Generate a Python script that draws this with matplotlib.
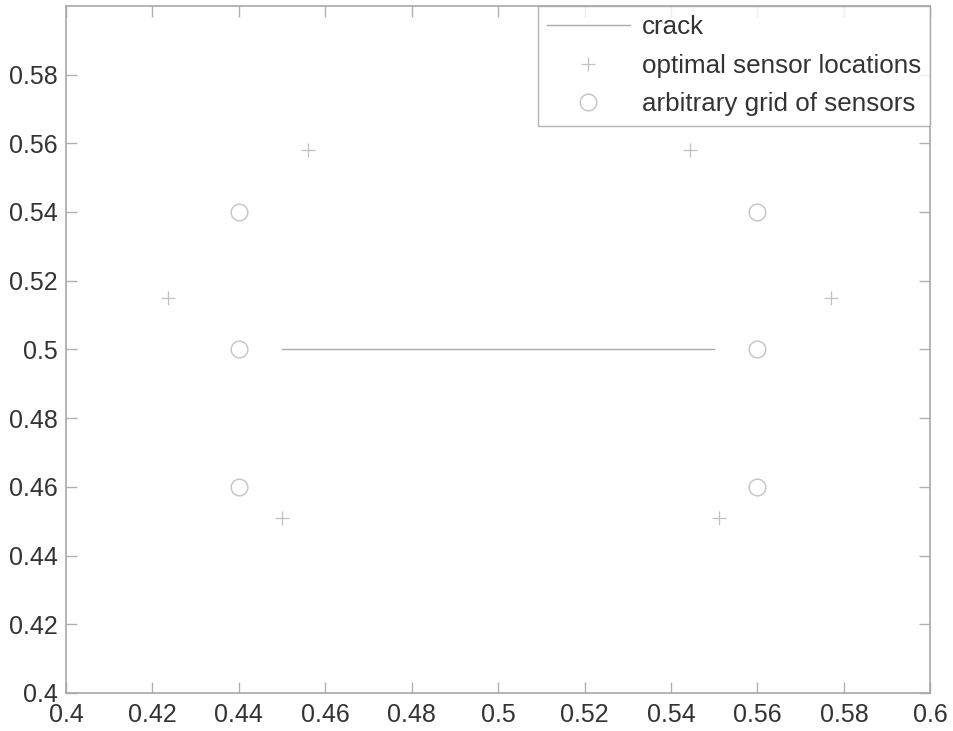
import numpy as np
import matplotlib.pyplot as plt

plt.rcParams['font.family'] = ['Liberation Sans', 'DejaVu Sans']

# crack segment along y = 0.5
crack_x = [0.45, 0.55]
crack_y = [0.5, 0.5]

# optimal sensor positions
opt_x = [0.456, 0.5445, 0.4235, 0.577, 0.450, 0.551]
opt_y = [0.558, 0.558, 0.515, 0.515, 0.451, 0.451]

# regular grid of sensors
grid_x = [0.44, 0.44, 0.44, 0.56, 0.56, 0.56]
grid_y = [0.54, 0.50, 0.46, 0.54, 0.50, 0.46]

xticks = np.round(np.arange(0.40, 0.601, 0.02), 2)
yticks = np.round(np.arange(0.40, 0.581, 0.02), 2)

fig = plt.figure(figsize=(9.54, 7.31), dpi=100)
ax = fig.add_axes([0.0692, 0.052, 0.906, 0.940])

ax.plot(crack_x, crack_y, '-', color='#ababab', lw=1.0, label='crack')
ax.plot(opt_x, opt_y, '+', color='#c0c0c0', ms=10, mew=0.9, linestyle='none',
        label='optimal sensor locations')
ax.plot(grid_x, grid_y, 'o', mfc='none', mec='#c8c8c8', ms=12, mew=1.1,
        linestyle='none', label='arbitrary grid of sensors')

ax.set_xlim(0.4, 0.6)
ax.set_ylim(0.4, 0.6)
ax.set_xticks(xticks)
ax.set_yticks(yticks)
ax.set_xticklabels([('%.2f' % v).rstrip('0').rstrip('.') for v in xticks])
ax.set_yticklabels([('%.2f' % v).rstrip('0').rstrip('.') for v in yticks])
ax.tick_params(direction='in', length=8, width=1, color='#b0b0b0',
               labelsize=18, labelcolor='#333333', top=True, right=True)
ax.tick_params(axis='x', pad=7)
ax.tick_params(axis='y', pad=6)
for s in ax.spines.values():
    s.set_color('#a8a8a8')
    s.set_linewidth(1.2)

leg = ax.legend(loc='upper right', fontsize=18.7, frameon=True, fancybox=False,
                borderaxespad=0, handlelength=3.2, handletextpad=0.45,
                labelspacing=0.56, borderpad=0.36)
leg.get_frame().set_edgecolor('#a0a0a0')
leg.get_frame().set_linewidth(1.0)
for t in leg.get_texts():
    t.set_color('#333333')

fig.savefig('out.png', dpi=100)
